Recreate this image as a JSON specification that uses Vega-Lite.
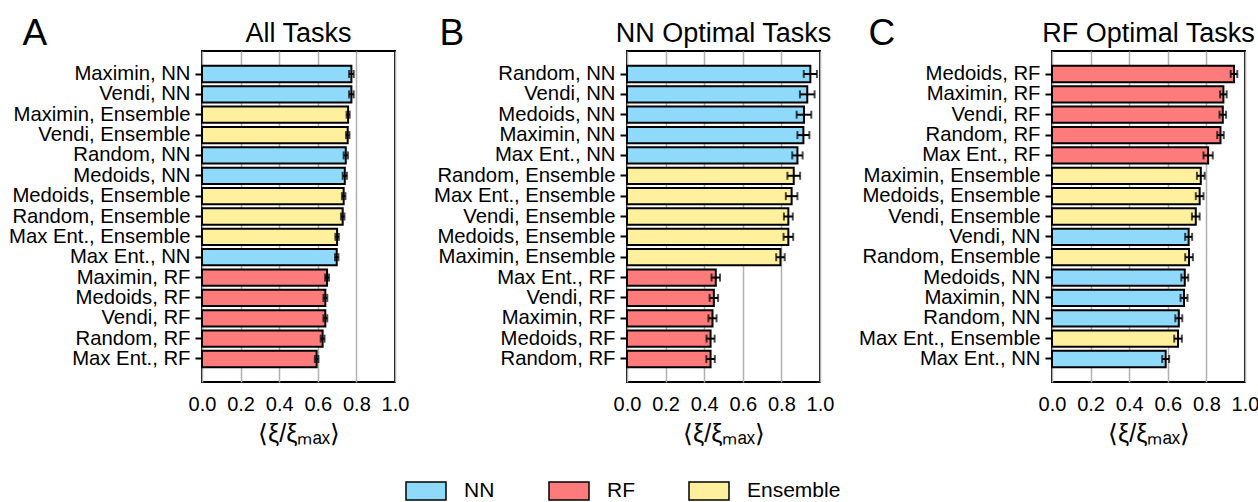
{
  "$schema": "https://vega.github.io/schema/vega-lite/v6.json",
  "autosize": {"type": "none"},
  "padding": {"left": 202, "top": 51, "right": 1056, "bottom": 451},
  "datasets": {
    "a": [
      {"label": "Maximin, NN", "model": "NN", "v": 0.774, "e": 0.012},
      {"label": "Vendi, NN", "model": "NN", "v": 0.774, "e": 0.012},
      {"label": "Maximin, Ensemble", "model": "Ensemble", "v": 0.757, "e": 0.008},
      {"label": "Vendi, Ensemble", "model": "Ensemble", "v": 0.755, "e": 0.009},
      {"label": "Random, NN", "model": "NN", "v": 0.745, "e": 0.011},
      {"label": "Medoids, NN", "model": "NN", "v": 0.740, "e": 0.011},
      {"label": "Medoids, Ensemble", "model": "Ensemble", "v": 0.734, "e": 0.009},
      {"label": "Random, Ensemble", "model": "Ensemble", "v": 0.729, "e": 0.009},
      {"label": "Max Ent., Ensemble", "model": "Ensemble", "v": 0.700, "e": 0.009},
      {"label": "Max Ent., NN", "model": "NN", "v": 0.698, "e": 0.009},
      {"label": "Maximin, RF", "model": "RF", "v": 0.648, "e": 0.01},
      {"label": "Medoids, RF", "model": "RF", "v": 0.639, "e": 0.01},
      {"label": "Vendi, RF", "model": "RF", "v": 0.639, "e": 0.01},
      {"label": "Random, RF", "model": "RF", "v": 0.625, "e": 0.01},
      {"label": "Max Ent., RF", "model": "RF", "v": 0.594, "e": 0.009}
    ],
    "b": [
      {"label": "Random, NN", "model": "NN", "v": 0.950, "e": 0.034},
      {"label": "Vendi, NN", "model": "NN", "v": 0.934, "e": 0.038},
      {"label": "Medoids, NN", "model": "NN", "v": 0.917, "e": 0.038},
      {"label": "Maximin, NN", "model": "NN", "v": 0.914, "e": 0.031},
      {"label": "Max Ent., NN", "model": "NN", "v": 0.883, "e": 0.027},
      {"label": "Random, Ensemble", "model": "Ensemble", "v": 0.864, "e": 0.033},
      {"label": "Max Ent., Ensemble", "model": "Ensemble", "v": 0.853, "e": 0.030},
      {"label": "Vendi, Ensemble", "model": "Ensemble", "v": 0.836, "e": 0.023},
      {"label": "Medoids, Ensemble", "model": "Ensemble", "v": 0.836, "e": 0.025},
      {"label": "Maximin, Ensemble", "model": "Ensemble", "v": 0.795, "e": 0.022},
      {"label": "Max Ent., RF", "model": "RF", "v": 0.460, "e": 0.022},
      {"label": "Vendi, RF", "model": "RF", "v": 0.450, "e": 0.022},
      {"label": "Maximin, RF", "model": "RF", "v": 0.443, "e": 0.021},
      {"label": "Medoids, RF", "model": "RF", "v": 0.433, "e": 0.021},
      {"label": "Random, RF", "model": "RF", "v": 0.433, "e": 0.022}
    ],
    "c": [
      {"label": "Medoids, RF", "model": "RF", "v": 0.943, "e": 0.017},
      {"label": "Maximin, RF", "model": "RF", "v": 0.888, "e": 0.017},
      {"label": "Vendi, RF", "model": "RF", "v": 0.885, "e": 0.017},
      {"label": "Random, RF", "model": "RF", "v": 0.873, "e": 0.017},
      {"label": "Max Ent., RF", "model": "RF", "v": 0.809, "e": 0.024},
      {"label": "Maximin, Ensemble", "model": "Ensemble", "v": 0.771, "e": 0.02},
      {"label": "Medoids, Ensemble", "model": "Ensemble", "v": 0.765, "e": 0.02},
      {"label": "Vendi, Ensemble", "model": "Ensemble", "v": 0.745, "e": 0.02},
      {"label": "Vendi, NN", "model": "NN", "v": 0.708, "e": 0.018},
      {"label": "Random, Ensemble", "model": "Ensemble", "v": 0.710, "e": 0.02},
      {"label": "Medoids, NN", "model": "NN", "v": 0.688, "e": 0.018},
      {"label": "Maximin, NN", "model": "NN", "v": 0.684, "e": 0.018},
      {"label": "Random, NN", "model": "NN", "v": 0.657, "e": 0.018},
      {"label": "Max Ent., Ensemble", "model": "Ensemble", "v": 0.653, "e": 0.02},
      {"label": "Max Ent., NN", "model": "NN", "v": 0.589, "e": 0.018}
    ]
  },
  "hconcat": [
    {
      "width": 193, "height": 331, "title": "All Tasks", "data": {"name": "a"},
      "encoding": {"y": {"field": "label", "type": "nominal", "sort": null, "scale": {"paddingInner": 0.2, "paddingOuter": 0.73}, "axis": {"title": "A", "titleX": -180}}},
      "layer": [
        {"mark": {"type": "bar", "stroke": "black", "strokeWidth": 2},
         "encoding": {
           "x": {"field": "v", "type": "quantitative", "scale": {"domain": [0, 1], "nice": false}, "axis": {"title": "⟨ξ/ξₘₐₓ⟩"}},
           "color": {"field": "model", "type": "nominal", "scale": {"domain": ["NN", "RF", "Ensemble"], "range": ["#8fd9fb", "#fd7b7b", "#fff09e"]}, "legend": {"title": null}}
         }},
        {"mark": {"type": "errorbar", "color": "black", "ticks": {"size": 8, "thickness": 2}, "rule": {"strokeWidth": 2}},
         "encoding": {"x": {"field": "v", "type": "quantitative", "axis": {"title": "⟨ξ/ξₘₐₓ⟩"}}, "xError": {"field": "e"}}}
      ]
    },
    {
      "width": 193, "height": 331, "title": "NN Optimal Tasks", "data": {"name": "b"},
      "encoding": {"y": {"field": "label", "type": "nominal", "sort": null, "scale": {"paddingInner": 0.2, "paddingOuter": 0.73}, "axis": {"title": "B", "titleX": -188}}},
      "layer": [
        {"mark": {"type": "bar", "stroke": "black", "strokeWidth": 2},
         "encoding": {
           "x": {"field": "v", "type": "quantitative", "scale": {"domain": [0, 1], "nice": false}, "axis": {"title": "⟨ξ/ξₘₐₓ⟩"}},
           "color": {"field": "model", "type": "nominal", "scale": {"domain": ["NN", "RF", "Ensemble"], "range": ["#8fd9fb", "#fd7b7b", "#fff09e"]}, "legend": {"title": null}}
         }},
        {"mark": {"type": "errorbar", "color": "black", "ticks": {"size": 8, "thickness": 2}, "rule": {"strokeWidth": 2}},
         "encoding": {"x": {"field": "v", "type": "quantitative", "axis": {"title": "⟨ξ/ξₘₐₓ⟩"}}, "xError": {"field": "e"}}}
      ]
    },
    {
      "width": 193, "height": 331, "title": "RF Optimal Tasks", "data": {"name": "c"},
      "encoding": {"y": {"field": "label", "type": "nominal", "sort": null, "scale": {"paddingInner": 0.2, "paddingOuter": 0.73}, "axis": {"title": "C", "titleX": -184}}},
      "layer": [
        {"mark": {"type": "bar", "stroke": "black", "strokeWidth": 2},
         "encoding": {
           "x": {"field": "v", "type": "quantitative", "scale": {"domain": [0, 1], "nice": false}, "axis": {"title": "⟨ξ/ξₘₐₓ⟩"}},
           "color": {"field": "model", "type": "nominal", "scale": {"domain": ["NN", "RF", "Ensemble"], "range": ["#8fd9fb", "#fd7b7b", "#fff09e"]}, "legend": {"title": null}}
         }},
        {"mark": {"type": "errorbar", "color": "black", "ticks": {"size": 8, "thickness": 2}, "rule": {"strokeWidth": 2}},
         "encoding": {"x": {"field": "v", "type": "quantitative", "axis": {"title": "⟨ξ/ξₘₐₓ⟩"}}, "xError": {"field": "e"}}}
      ]
    }
  ],
  "spacing": 232,
  "bounds": "flush",
  "resolve": {"scale": {"y": "independent", "x": "independent", "color": "shared"}},
  "config": {
    "font": "Liberation Sans",
    "view": {"stroke": "black", "strokeWidth": 2},
    "axis": {"labelColor": "black", "titleColor": "black", "labelFont": "Liberation Sans", "titleFont": "Liberation Sans"},
    "axisX": {"grid": true, "gridColor": "#b0b0b0", "gridWidth": 1.5, "domain": false, "ticks": false, "labelFontSize": 20, "labelPadding": 12, "titleFontSize": 25, "titleFontWeight": "normal", "titlePadding": 7, "values": [0, 0.2, 0.4, 0.6, 0.8, 1], "format": ".1f", "labelFlush": false},
    "axisY": {"domain": false, "tickColor": "black", "tickWidth": 2, "tickSize": 7, "labelFontSize": 20.3, "labelPadding": 5, "labelLimit": 400, "titleFontSize": 37, "titleFontWeight": "normal", "titleAngle": 0, "titleAlign": "left", "titleBaseline": "alphabetic", "titleY": -7},
    "title": {"fontSize": 27, "fontWeight": "normal", "offset": 7, "dy": 41, "font": "Liberation Sans", "color": "black"},
    "legend": {"orient": "none", "legendX": 203, "legendY": 419, "direction": "horizontal", "symbolType": "M-1,-0.45L1,-0.45L1,0.45L-1,0.45Z", "symbolSize": 1600, "symbolStrokeColor": "black", "symbolStrokeWidth": 1.5, "symbolOpacity": 1, "labelFontSize": 21, "labelColor": "black", "labelOffset": 17, "columnPadding": 51, "labelFont": "Liberation Sans"}
  }
}
